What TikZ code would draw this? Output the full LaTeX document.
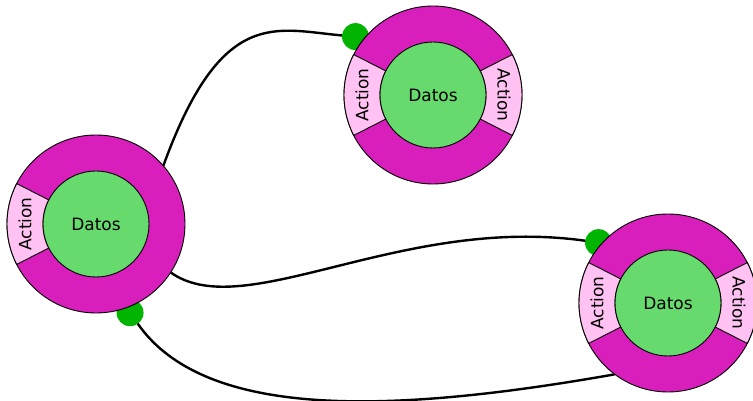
\documentclass[tikz,border=0pt]{standalone}
\usepackage{fontspec}
\setmainfont{DejaVu Sans}
\usepackage{tikz}
\usetikzlibrary{calc}
\definecolor{ringmag}{RGB}{216,30,187}
\definecolor{bandpink}{RGB}{255,194,242}
\definecolor{datgreen}{RGB}{103,218,110}
\definecolor{portgreen}{RGB}{0,180,0}
\pgfdeclarelayer{wires}
\pgfsetlayers{wires,main}
\tikzset{
    ring/.style={circle, draw, line width=0.9pt, fill=ringmag, minimum size=178pt, inner sep=0pt},
    datos/.style={circle, draw, line width=0.9pt, fill=datgreen, minimum size=106pt, inner sep=0pt, font=\fontsize{17}{20}\selectfont},
    band/.style={draw, line width=0.9pt, fill=bandpink},
    actlabel/.style={font=\fontsize{17}{20}\selectfont, inner sep=0pt},
    port/.style={circle, fill=portgreen, minimum size=27pt, inner sep=0pt},
    wire/.style={line width=2.4pt, line cap=round}
}
% #1 = ring node, #2 = angle of the band
\newcommand{\actband}[2]{
    \draw[band] ($(#1)+(#2-27:89pt)$) arc[start angle=#2-27, end angle=#2+27, radius=89pt]
        -- ($(#1)+(#2+27:53pt)$) arc[start angle=#2+27, end angle=#2-27, radius=53pt] -- cycle;
    \node[actlabel, rotate=#2-90] at ($(#1)+(#2:71pt)$) {Action};
}

\begin{document}
\begin{tikzpicture}[x=1pt, y=1pt]
    \clip (0,0) rectangle (753,401);
    % Centres:
    \coordinate (Lc) at (96,177);
    \coordinate (Tc) at (433,306);
    \coordinate (Rc) at (668,98);
    % Ports (behind the rings):
    \node[port] (Lp) at ($(Lc)+(-69:95pt)$) {};
    \node[port] (Tp) at ($(Tc)+(143:97pt)$) {};
    \node[port] (Rp) at ($(Rc)+(139:92pt)$) {};
    % Nodes:
    \node[ring] (L) at (Lc) {};
    \actband{L}{180}
    \node[datos] (Ld) at (Lc) {Datos};
    \node[ring] (T) at (Tc) {};
    \actband{T}{180}
    \actband{T}{0}
    \node[datos] (Td) at (Tc) {Datos};
    \node[ring] (R) at (Rc) {};
    \actband{R}{180}
    \actband{R}{0}
    \node[datos] (Rd) at (Rc) {Datos};
    % Wires:
    \begin{pgfonlayer}{wires}
    \draw[wire] (L.41) .. controls +(70:170pt) and +(175:80pt) .. (Tp);
    \draw[wire] (L.-33) .. controls +(-35:90pt) and +(172:200pt) .. (Rp);
    \draw[wire] (Lp) .. controls +(-55:130pt) and +(190:230pt) .. (R.-127);
    \end{pgfonlayer}
\end{tikzpicture}
\end{document}
